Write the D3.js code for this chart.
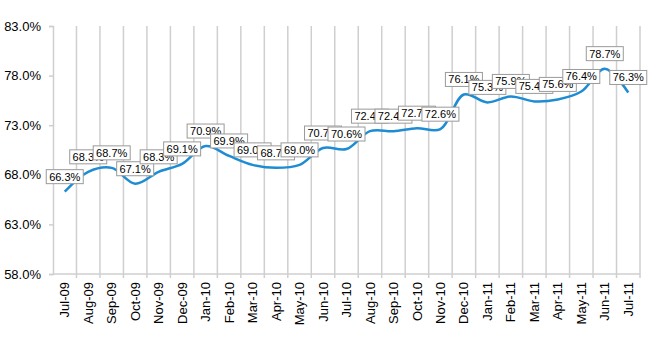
<!DOCTYPE html>
<html>
<head>
<meta charset="utf-8">
<script src="https://cdn.jsdelivr.net/npm/d3@7"></script>
<style>
  html, body { margin: 0; padding: 0; background: #fff; }
  svg { display: block; font-family: "Liberation Sans", Arial, sans-serif; }
</style>
</head>
<body>
<svg id="chart" width="650" height="350"></svg>
<script>
const categories = ["Jul-09","Aug-09","Sep-09","Oct-09","Nov-09","Dec-09","Jan-10","Feb-10","Mar-10","Apr-10","May-10","Jun-10","Jul-10","Aug-10","Sep-10","Oct-10","Nov-10","Dec-10","Jan-11","Feb-11","Mar-11","Apr-11","May-11","Jun-11","Jul-11"];
const values = [66.3,68.3,68.7,67.1,68.3,69.1,70.9,69.9,69.0,68.7,69.0,70.7,70.6,72.4,72.4,72.7,72.6,76.1,75.3,75.9,75.4,75.6,76.4,78.7,76.3];
const yTicks = [58,63,68,73,78,83];

(function () {
const svg = d3.select("#chart");
const mLeft = 53, mRight = 640, mTop = 26, mBottom = 274;

const x = d3.scaleBand().domain(categories).range([mLeft, mRight]).padding(0);
const y = d3.scaleLinear().domain([58, 83]).range([mBottom, mTop]);
const gridColor = "#cfcfcf";

// vertical gridlines at band boundaries
const bounds = categories.map(c => x(c) + x.bandwidth());
svg.append("g").selectAll("line").data(bounds).join("line")
  .attr("x1", d => d).attr("x2", d => d)
  .attr("y1", mTop).attr("y2", mBottom + 4)
  .attr("stroke", gridColor).attr("stroke-width", 1.5);

// bottom axis line
svg.append("line").attr("x1", mLeft).attr("x2", mRight)
  .attr("y1", mBottom).attr("y2", mBottom)
  .attr("stroke", gridColor).attr("stroke-width", 1.5);

// y axis
const yAxis = d3.axisLeft(y).tickValues(yTicks).tickSize(4).tickPadding(8)
  .tickFormat(d => d3.format(".1f")(d) + "%");
const ya = svg.append("g").attr("transform", `translate(${mLeft},0)`).call(yAxis);
ya.select(".domain").attr("stroke", gridColor).attr("stroke-width", 1.5);
ya.selectAll(".tick line").attr("stroke", gridColor).attr("stroke-width", 1.5);
ya.selectAll("text").attr("font-size", 13).attr("fill", "#000")
  .attr("font-family", "Liberation Sans, Arial, sans-serif");

// x labels
const xa = svg.append("g");
xa.selectAll("text").data(categories).join("text")
  .attr("transform", d => `translate(${x(d) + x.bandwidth()/2},${mBottom + 8}) rotate(-90)`)
  .attr("text-anchor", "end")
  .attr("dy", "0.35em")
  .attr("font-size", 13)
  .attr("fill", "#000")
  .text(d => d);

// line
const line = d3.line()
  .x((d, i) => x(categories[i]) + x.bandwidth()/2)
  .y(d => y(d))
  .curve(d3.curveCatmullRom.alpha(0.5));
svg.append("path").datum(values)
  .attr("d", line)
  .attr("fill", "none")
  .attr("stroke", "#1e8cd3")
  .attr("stroke-width", 2.5);

// labels
const bw = 37, bh = 14;
const lg = svg.append("g");
values.forEach((v, i) => {
  const px = x(categories[i]) + x.bandwidth()/2;
  const py = y(v);
  const g = lg.append("g");
  g.append("rect")
    .attr("x", px - bw/2).attr("y", py - 8 - bh)
    .attr("width", bw).attr("height", bh)
    .attr("fill", "#fff").attr("stroke", "#9a9a9a").attr("stroke-width", 1);
  g.append("text")
    .attr("x", px).attr("y", py - 8 - 3)
    .attr("text-anchor", "middle")
    .attr("font-size", 11)
    .attr("fill", "#000")
    .text(d3.format(".1f")(v) + "%");
});
})();
</script>
</body>
</html>
